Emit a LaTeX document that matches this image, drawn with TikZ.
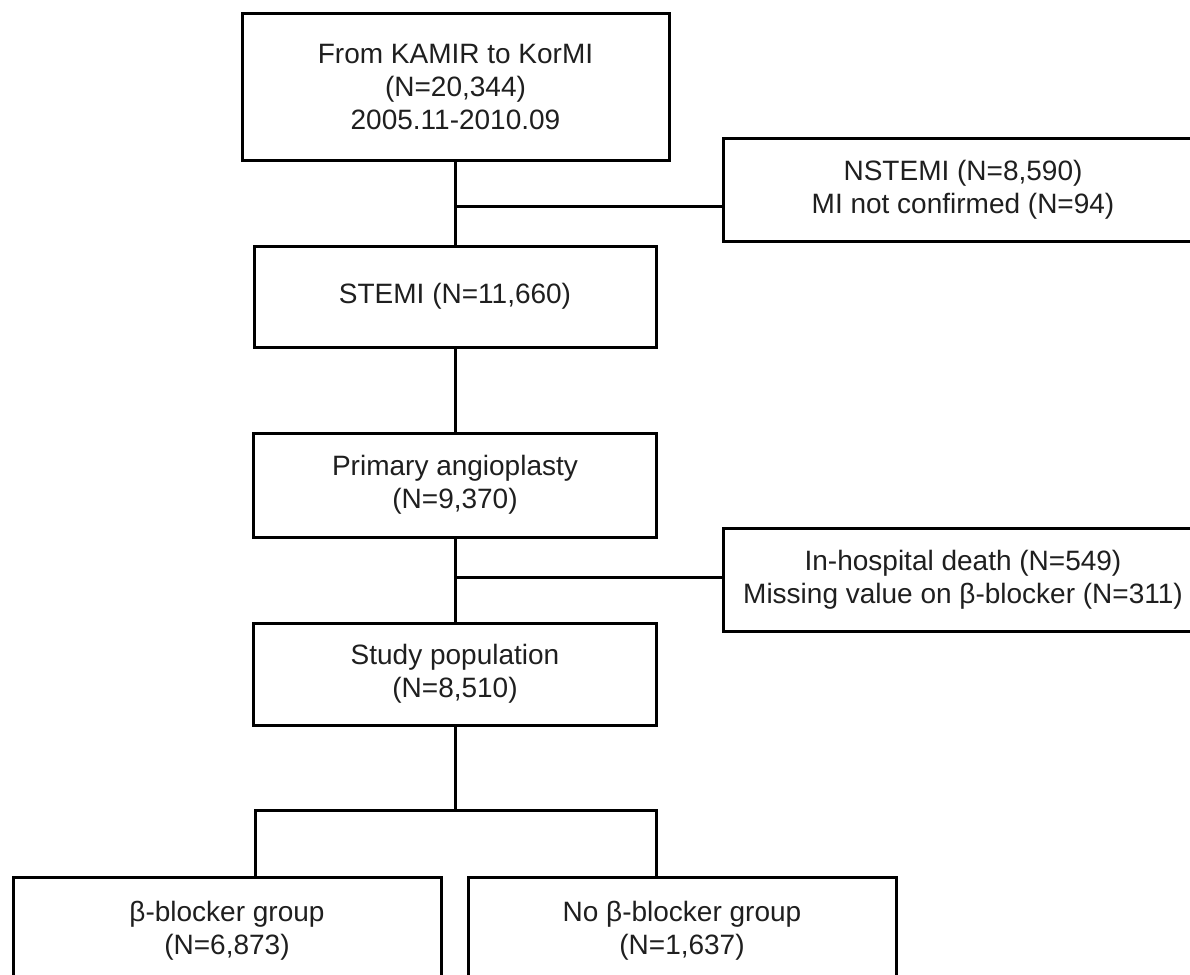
\documentclass[tikz,border=0pt]{standalone}
\usepackage{fontspec}
\setmainfont{Liberation Sans}
\begin{document}
\begin{tikzpicture}[x=1pt,y=-1pt,
  box/.style={draw=black, line width=3pt, rectangle, inner sep=0pt, outer sep=0pt,
    align=center, font=\fontsize{28}{33}\selectfont, text=black!88},
  conn/.style={draw=black, line width=3pt}]
\useasboundingbox (0,0) rectangle (1190,974);
\clip (0,0) rectangle (1190,974);
\fill[white] (0,0) rectangle (1190,974);

\node[box, minimum width=427pt, minimum height=146pt] (top) at (455.5,87)
  {From KAMIR to KorMI\\(N=20,344)\\2005.11-2010.09};
\node[box, minimum width=480pt, minimum height=103pt] (nstemi) at (963,189.5)
  {NSTEMI (N=8,590)\\MI not confirmed (N=94)};
\node[box, minimum width=402pt, minimum height=101pt] (stemi) at (455,296.5)
  {STEMI (N=11,660)};
\node[box, minimum width=403pt, minimum height=104pt] (primary) at (455,485)
  {Primary angioplasty\\(N=9,370)};
\node[box, minimum width=480pt, minimum height=103pt] (missing) at (963,579.5)
  {In-hospital death (N=549)\\Missing value on β-blocker (N=311)};
\node[box, minimum width=403pt, minimum height=102pt] (study) at (455,674)
  {Study population\\(N=8,510)};
\node[box, minimum width=428pt, minimum height=108pt] (beta) at (227,931)
  {β-blocker group\\(N=6,873)};
\node[box, minimum width=428pt, minimum height=108pt] (nobeta) at (682,931)
  {No β-blocker group\\(N=1,637)};

\coordinate (b1) at (455,206);
\coordinate (b2) at (455,577);
\coordinate (sp) at (455,810);

\draw[conn] (stemi.north |- top.south) -- (stemi.north);
\draw[conn] (b1) -- (b1 -| nstemi.west);
\draw[conn] (stemi.south) -- (primary.north);
\draw[conn] (primary.south) -- (study.north);
\draw[conn] (b2) -- (b2 -| missing.west);
\draw[conn] (study.south) -- (sp);
\draw[conn] ([xshift=2pt]study.west |- beta.north) |- (sp -| study.east) -- (study.east |- nobeta.north);
\end{tikzpicture}
\end{document}
